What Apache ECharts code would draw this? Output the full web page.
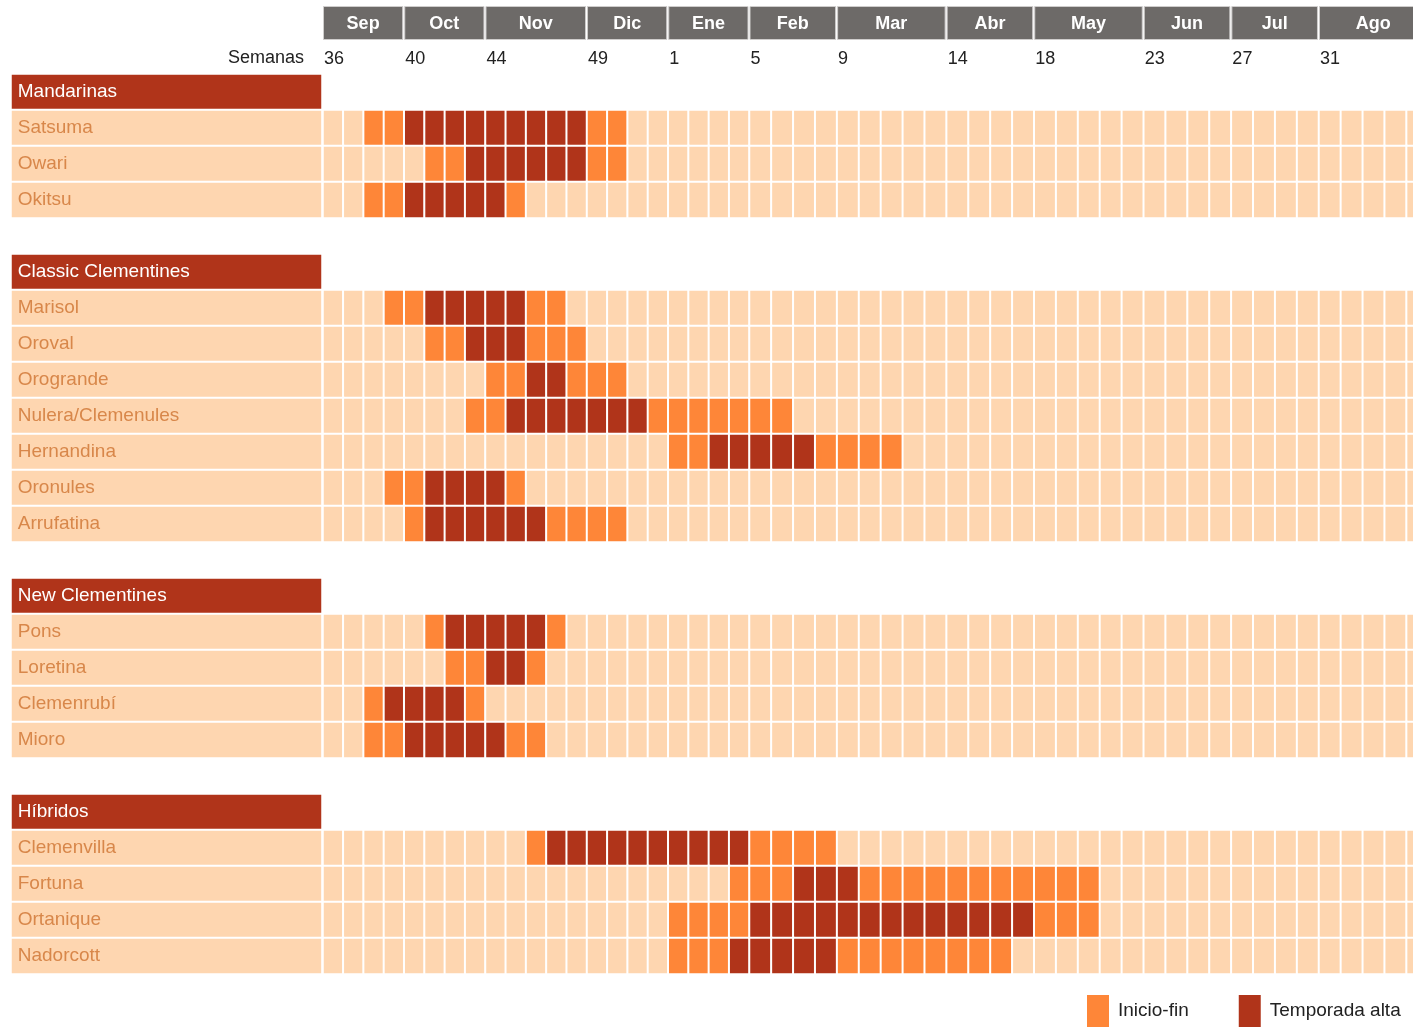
<!DOCTYPE html>
<html>
<head>
<meta charset="utf-8">
<script src="https://cdn.jsdelivr.net/npm/echarts@6/dist/echarts.min.js"></script>
<style>
html,body{margin:0;padding:0;background:#fff;overflow:hidden;}
#chart{width:1432px;height:1027px;}
</style>
</head>
<body>
<div id="chart"></div>
<script>
// ---- DATA ----
const weeks = [36,37,38,39,40,41,42,43,44,45,46,47,48,49,50,51,52,
               1,2,3,4,5,6,7,8,9,10,11,12,13,14,15,16,17,18,19,20,21,22,23,24,25,26,27,28,29,30,31,32,33,34,35];
const months = ['Sep','Oct','Nov','Dic','Ene','Feb','Mar','Abr','May','Jun','Jul','Ago'];
const monthFirstWeek = [36,40,44,49,1,5,9,14,18,23,27,31];
const groups = ['Mandarinas','Classic Clementines','New Clementines','Híbridos'];
const varieties = ['Satsuma','Owari','Okitsu',
  'Marisol','Oroval','Orogrande','Nulera/Clemenules','Hernandina','Oronules','Arrufatina',
  'Pons','Loretina','Clemenrubí','Mioro',
  'Clemenvilla','Fortuna','Ortanique','Nadorcott'];
const groupOf    = [0,0,0, 1,1,1,1,1,1,1, 2,2,2,2, 3,3,3,3];
// season windows (week numbers): Inicio from, Temporada alta from/to, Fin to
const inicioFrom = [38,41,38, 39,41,44,43, 1,39,40, 41,42,38,38, 46, 4, 1, 1];
const altaFrom   = [40,43,40, 41,43,46,45, 3,41,41, 42,44,39,40, 47, 7, 5, 4];
const altaTo     = [48,48,44, 45,45,47,51, 7,44,46, 46,45,42,44,  4, 9,17, 8];
const finTo      = [50,50,45, 47,48,50, 6,11,45,50, 47,46,43,46,  8,20,20,16];
const legendNames = ['Inicio-fin','Temporada alta'];

// ---- BUILD ----
const FONT = "'Liberation Sans', Arial, sans-serif";
const C_LIGHT = '#fed6b0', C_ORANGE = '#fe8638', C_DARK = '#b0341a';
const SPLIT = weeks.indexOf(5); // first week of second grid

const slots = [];
groups.forEach((g, gi) => {
  slots.push({kind: 'group', name: g});
  varieties.forEach((v, vi) => { if (groupOf[vi] === gi) slots.push({kind: 'var', name: v, vi: vi}); });
  if (gi < groups.length - 1) slots.push({kind: 'gap', name: ''});
});
const slotIds = slots.map((s, i) => String(i));

const labelData = [];
const cellsA = [], cellsB = [];
slots.forEach((s, si) => {
  if (s.kind === 'group') {
    labelData.push({value: [0, si, 2], label: {color: '#ffffff'}});
  } else if (s.kind === 'var') {
    labelData.push({value: [0, si, 0], label: {color: '#d8874a'}});
    const vi = s.vi;
    const i0 = weeks.indexOf(inicioFrom[vi]), a0 = weeks.indexOf(altaFrom[vi]),
          a1 = weeks.indexOf(altaTo[vi]), i1 = weeks.indexOf(finTo[vi]);
    weeks.forEach((w, j) => {
      let val = 0;
      if (j >= i0 && j <= i1) val = (j >= a0 && j <= a1) ? 2 : 1;
      if (j < SPLIT) cellsA.push([j, si, val]); else cellsB.push([j - SPLIT, si, val]);
    });
  }
});

const headA = [], headB = [];
months.forEach((m, mi) => {
  const s = weeks.indexOf(monthFirstWeek[mi]);
  const e = mi < months.length - 1 ? weeks.indexOf(monthFirstWeek[mi + 1]) - 1 : weeks.length - 1;
  if (s < SPLIT) headA.push([s, e, 0, mi]); else headB.push([s - SPLIT, e - SPLIT, 0, mi]);
});

function renderHeader(params, api) {
  const s = api.value(0), e = api.value(1), mi = api.value(3);
  const p0 = api.coord([s, 0]), p1 = api.coord([e, 0]);
  const bw = api.size([1, 0])[0], bh = api.size([0, 1])[1];
  const x0 = p0[0] - bw / 2, x1 = p1[0] + bw / 2, y0 = p0[1] - bh / 2;
  return {
    type: 'group',
    children: [
      {type: 'rect', shape: {x: x0 + 0.5, y: y0 + 0.5, width: x1 - x0 - 2, height: bh - 1},
       style: {fill: '#6d6a68', stroke: '#cfcdcc', lineWidth: 1}},
      {type: 'text', style: {text: months[mi], x: (x0 + x1 - 1) / 2, y: y0 + bh / 2 + 1,
        align: 'center', verticalAlign: 'middle', fill: '#ffffff',
        fontSize: 18, fontWeight: 'bold', fontFamily: FONT}},
      {type: 'text', style: {text: String(monthFirstWeek[mi]), x: x0 + 1, y: y0 + bh + 19,
        align: 'left', verticalAlign: 'middle', fill: '#222222', fontSize: 18, fontFamily: FONT}}
    ]
  };
}

const gridTop = 74, gridH = 900;
const option = {
  animation: false,
  backgroundColor: '#ffffff',
  grid: [
    {left: 11, top: gridTop, width: 311, height: gridH},
    {left: 323, top: gridTop, width: 426.5, height: gridH},
    {left: 749.5, top: gridTop, width: 679, height: gridH},
    {left: 323, top: 6, width: 426.5, height: 34},
    {left: 749.5, top: 6, width: 679, height: 34}
  ],
  xAxis: [
    {gridIndex: 0, type: 'category', data: ['l'], show: false},
    {gridIndex: 1, type: 'category', data: weeks.slice(0, SPLIT).map(String), show: false},
    {gridIndex: 2, type: 'category', data: weeks.slice(SPLIT).map(String), show: false},
    {gridIndex: 3, type: 'category', data: weeks.slice(0, SPLIT).map(String), show: false},
    {gridIndex: 4, type: 'category', data: weeks.slice(SPLIT).map(String), show: false}
  ],
  yAxis: [
    {gridIndex: 0, type: 'category', data: slotIds, inverse: true, show: false},
    {gridIndex: 1, type: 'category', data: slotIds, inverse: true, show: false},
    {gridIndex: 2, type: 'category', data: slotIds, inverse: true, show: false},
    {gridIndex: 3, type: 'category', data: ['m'], show: false},
    {gridIndex: 4, type: 'category', data: ['m'], show: false}
  ],
  visualMap: {
    type: 'piecewise',
    seriesIndex: [0, 1, 2],
    dimension: 2,
    pieces: [
      {value: 1, label: legendNames[0], color: C_ORANGE},
      {value: 2, label: legendNames[1], color: C_DARK}
    ],
    outOfRange: {color: C_LIGHT},
    orient: 'horizontal',
    left: 1087, top: 995,
    padding: 0,
    itemWidth: 22, itemHeight: 32,
    itemSymbol: 'rect',
    itemGap: 50,
    textGap: 9,
    selectedMode: false,
    hoverLink: false,
    textStyle: {fontSize: 19, color: '#222222', fontFamily: FONT}
  },
  graphic: [
    {type: 'text', x: 304, y: 58,
     style: {text: 'Semanas', fill: '#222222', fontSize: 18, fontFamily: FONT,
             align: 'right', verticalAlign: 'middle'}}
  ],
  series: [
    {type: 'heatmap', xAxisIndex: 0, yAxisIndex: 0, data: labelData,
     itemStyle: {borderColor: '#ffffff', borderWidth: 2},
     label: {show: true, position: 'insideLeft', distance: 8, fontSize: 19, fontFamily: FONT,
       formatter: p => slots[p.value[1]].name},
     emphasis: {disabled: true}},
    {type: 'heatmap', xAxisIndex: 1, yAxisIndex: 1, data: cellsA,
     itemStyle: {borderColor: '#ffffff', borderWidth: 2}, emphasis: {disabled: true}},
    {type: 'heatmap', xAxisIndex: 2, yAxisIndex: 2, data: cellsB,
     itemStyle: {borderColor: '#ffffff', borderWidth: 2}, emphasis: {disabled: true}},
    {type: 'custom', xAxisIndex: 3, yAxisIndex: 3, data: headA, renderItem: renderHeader,
     encode: {x: [0, 1], y: 2}, clip: false, silent: true},
    {type: 'custom', xAxisIndex: 4, yAxisIndex: 4, data: headB, renderItem: renderHeader,
     encode: {x: [0, 1], y: 2}, clip: false, silent: true}
  ]
};

const chart = echarts.init(document.getElementById('chart'), null, {renderer: 'canvas'});
chart.setOption(option);
</script>
</body>
</html>
